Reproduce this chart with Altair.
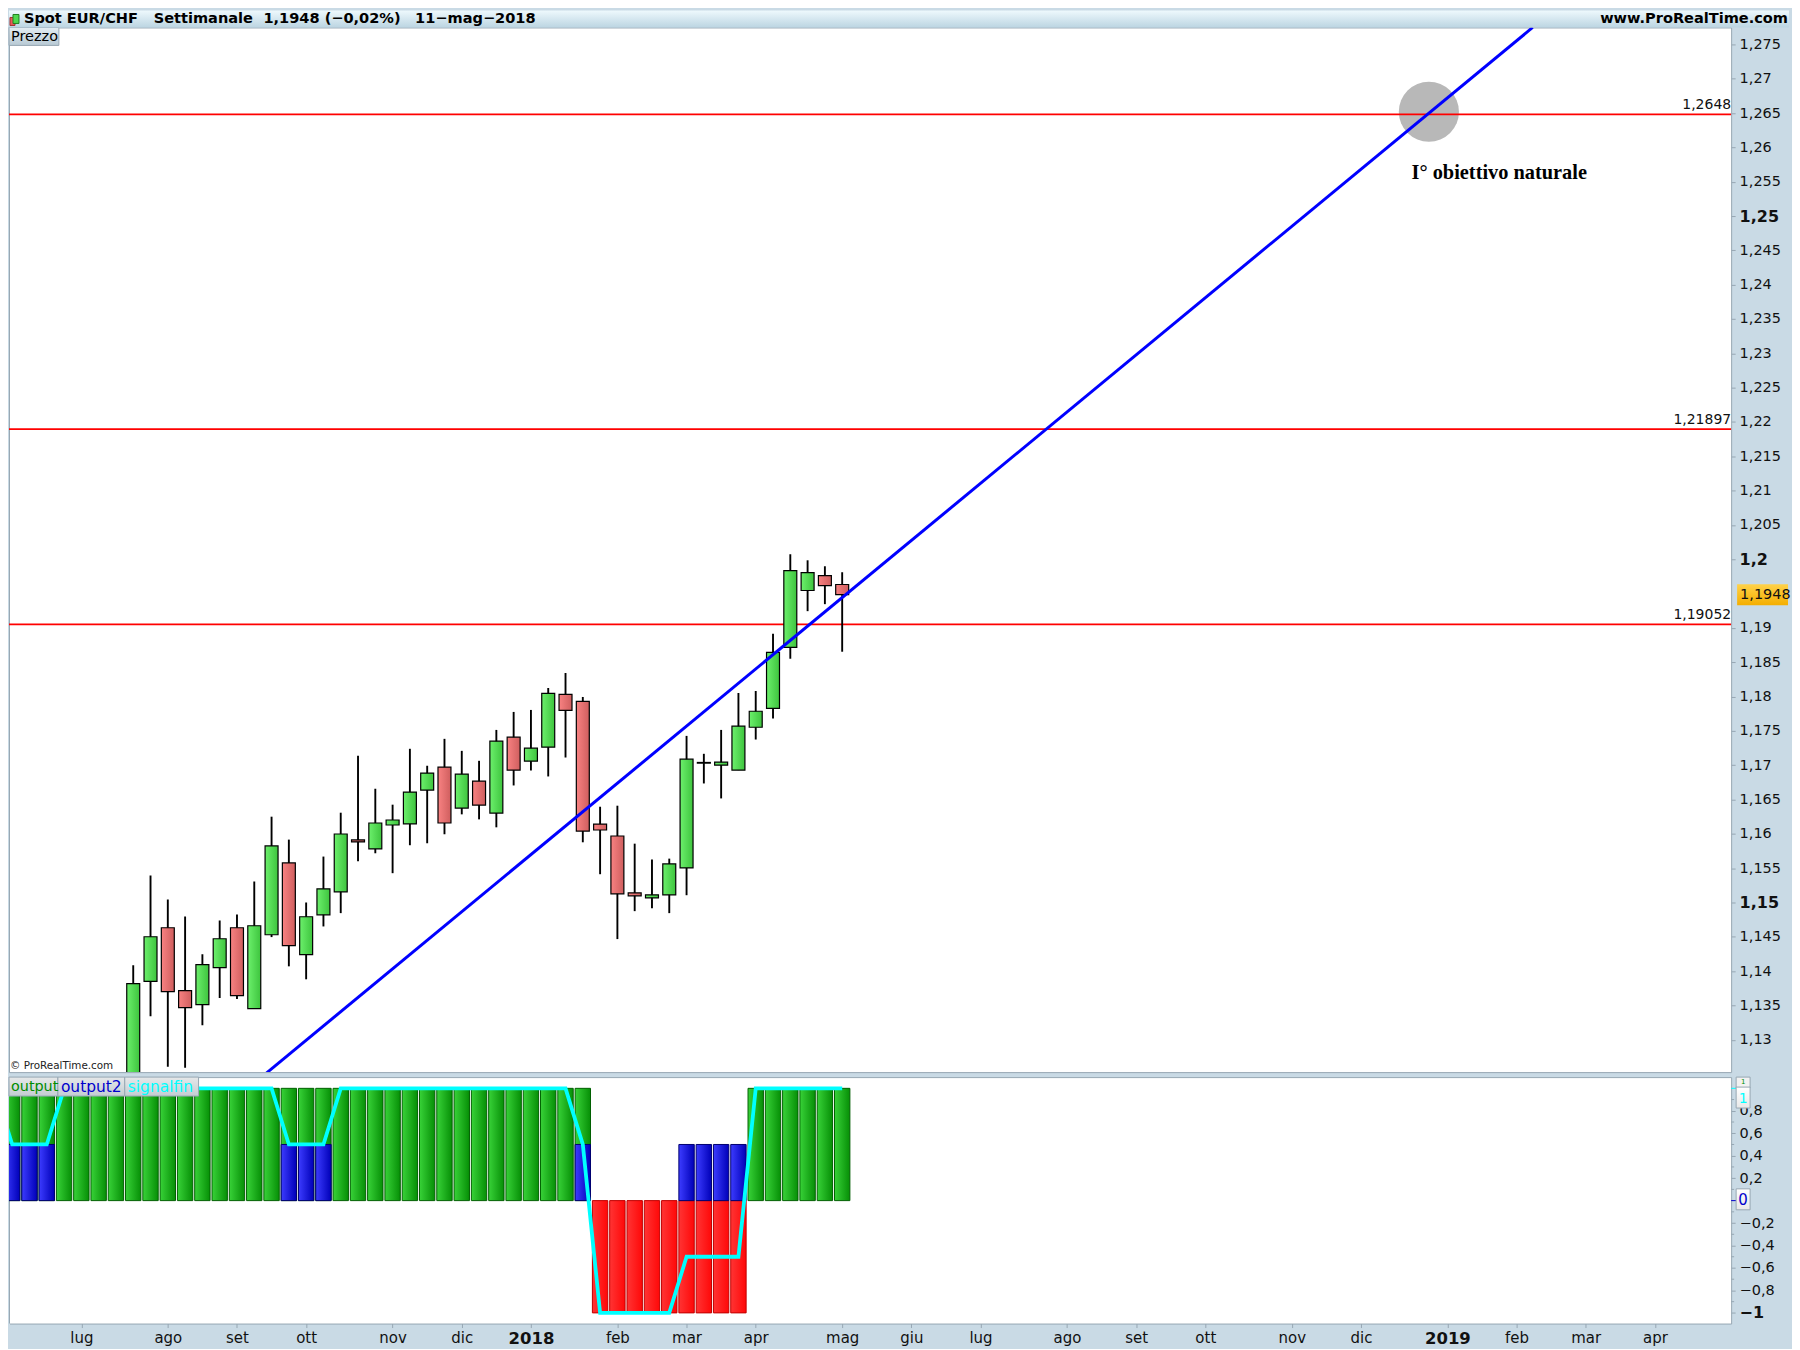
import altair as alt
import pandas as pd

# ---- price panel data (weekly candles, first visible candle is week 7) ----
first_week = 7
opens = [1.1210, 1.1385, 1.14632, 1.13717, 1.13513, 1.14051, 1.14632, 1.13455, 1.14530, 1.15577, 1.14240, 1.14821, 1.15155,
         1.15911, 1.15780, 1.16129, 1.16144, 1.16638, 1.16972, 1.16376, 1.16768, 1.16303, 1.17408, 1.17059, 1.17262, 1.18033,
         1.17931, 1.16143, 1.15969, 1.15140, 1.15068, 1.15111, 1.15504, 1.17030, 1.17001, 1.16928, 1.17553, 1.17829, 1.18716,
         1.19545, 1.19763, 1.19632]
closes = [1.13818, 1.14501, 1.13702, 1.13469, 1.14094, 1.14472, 1.13644, 1.14661, 1.15824, 1.14371, 1.14792, 1.15199, 1.15998,
          1.15882, 1.16158, 1.16202, 1.16609, 1.16885, 1.16158, 1.16870, 1.16419, 1.17350, 1.16928, 1.17248, 1.18047, 1.17800,
          1.16041, 1.16056, 1.15126, 1.15097, 1.15111, 1.15562, 1.17088, 1.17040, 1.17044, 1.17568, 1.17786, 1.18643, 1.19835,
          1.19806, 1.19617, 1.19486]
highs = [1.14085, 1.15393, 1.15044, 1.14797, 1.14245, 1.14739, 1.14826, 1.15306, 1.16250, 1.15916, 1.15000, 1.15669, 1.16308,
         1.17137, 1.16657, 1.16425, 1.17239, 1.16992, 1.17384, 1.17209, 1.17064, 1.17514, 1.17776, 1.17805, 1.18125, 1.18343,
         1.17994, 1.16395, 1.16410, 1.15857, 1.15625, 1.15639, 1.17427, 1.17166, 1.17514, 1.18052, 1.18081, 1.18916, 1.20073,
         1.19985, 1.19898, 1.19811]
lows = [1.1190, 1.13343, 1.12607, 1.12592, 1.13213, 1.13610, 1.13595, 1.13455, 1.14496, 1.14070, 1.13881, 1.14651, 1.14845,
        1.15601, 1.15717, 1.15427, 1.15834, 1.15863, 1.15994, 1.16284, 1.16211, 1.16095, 1.16705, 1.16923, 1.16836, 1.17112,
        1.15877, 1.15412, 1.14467, 1.14874, 1.14917, 1.14845, 1.15106, 1.16734, 1.16516, 1.16928, 1.17374, 1.17679, 1.18551,
        1.19244, 1.19346, 1.18653]

level_values = [1.2648, 1.21897, 1.19052]
level_labels = ["1,2648", "1,21897", "1,19052"]

trend_weeks = [14.7, 87.93]
trend_prices = [1.12515, 1.27747]

circle_week, circle_price = [81.93], [1.26519]
note_week, note_price, note_text = [86.0], [1.25625], ["I° obiettivo naturale"]

# ---- indicator panel data ----
ind_weeks = list(range(49))
output = [1]*34 + [0]*9 + [1]*6
output2 = [.5]*3 + [0]*13 + [.5]*3 + [0]*14 + [.5] + [0]*5 + [.5]*4 + [0]*6
output_neg = [0]*34 + [-1]*9 + [0]*6
signal_weeks = [-1] + ind_weeks
signalfin = [1, .5, .5, .5] + [1]*13 + [.5]*3 + [1]*14 + [.5] + [-1]*5 + [-.5]*4 + [1]*6

# ---- axes ----
month_weeks = [4, 9, 13, 17, 22, 26, 30, 35, 39, 43, 48, 52, 56, 61, 65, 69, 74, 78, 83, 87, 91, 95]
month_labels = ["lug", "ago", "set", "ott", "nov", "dic", "2018", "feb", "mar", "apr", "mag", "giu", "lug", "ago", "set",
                "ott", "nov", "dic", "2019", "feb", "mar", "apr"]
price_ticks = [1.13, 1.135, 1.14, 1.145, 1.15, 1.155, 1.16, 1.165, 1.17, 1.175, 1.18, 1.185, 1.19, 1.2, 1.205, 1.21, 1.215,
               1.22, 1.225, 1.23, 1.235, 1.24, 1.245, 1.25, 1.255, 1.26, 1.265, 1.27, 1.275]
ind_ticks = [-1, -.8, -.6, -.4, -.2, .2, .4, .6, .8]
ind_minor = [-.9, -.7, -.5, -.3, -.1, .1, .3, .5, .7, .9]

header_texts = ["Spot EUR/CHF", "Settimanale", "1,1948 (−0,02%)", "11−mag−2018"]
header_x = [15, 145, 255, 407]

W, H1, H2 = 1726, 1047, 247
RIGHT = 1784
FONT = "DejaVu Sans"
BAND = "#c9dae5"
EDGE = "#97a7b3"

def grad(*cols):
    n = len(cols) - 1
    return alt.Gradient(gradient="linear", x1=0, x2=1, y1=0, y2=0,
                        stops=[alt.GradientStop(offset=i / n, color=c) for i, c in enumerate(cols)])

def vgrad(a, b):
    return alt.Gradient(gradient="linear", x1=0, x2=0, y1=0, y2=1,
                        stops=[alt.GradientStop(offset=0, color=a), alt.GradientStop(offset=1, color=b)])

def cond(test, yes, no):
    return {"condition": {"test": test, "value": yes}, "value": no}

xs = alt.Scale(domain=[-0.1846, 99.41], nice=False, zero=False)
ys1 = alt.Scale(domain=[1.12529, 1.27747], nice=False, zero=False)
ys2 = alt.Scale(domain=[-1.095, 1.1], nice=False, zero=False)

def box(x0, x1, y0, y1, fill, stroke=None):
    kw = {"fill": fill}
    if stroke:
        kw.update(stroke=stroke, strokeWidth=1)
    return alt.Chart().mark_rect(clip=False, **kw).encode(
        x=alt.value(x0), x2=alt.value(x1), y=alt.value(y0), y2=alt.value(y1))

def label(text, x, y, size=15, color="#000000", weight="normal", align="left", font=FONT):
    return alt.Chart().mark_text(text=text, clip=False, font=font, fontSize=size, color=color, fontWeight=weight,
                                 align=align, baseline="middle").encode(x=alt.value(x), y=alt.value(y))

# ---- candles ----
df = pd.DataFrame({"i": [first_week + k for k in range(len(opens))], "o": opens, "c": closes, "h": highs, "l": lows})
df["a"] = df.i - .375
df["b"] = df.i + .375
up = df[df.c >= df.o]
dn = df[df.c < df.o]

round_prices = "abs(datum.value-1.15)<0.0001||abs(datum.value-1.2)<0.0001||abs(datum.value-1.25)<0.0001"
price_axis = alt.Axis(
    orient="right", values=price_ticks, grid=False, domain=False, title=None, tickColor=EDGE, tickSize=4,
    labelPadding=4, labelFont=FONT, labelColor="#111111", labelOverlap=False, labelBound=False,
    labelExpr="replace(format(datum.value,'.3~f'),'.',',')",
    labelFontWeight=cond(round_prices, "bold", "normal"),
    labelFontSize=cond(round_prices, 16, 14.5),
)
Y1 = lambda f: alt.Y(f, scale=ys1, axis=price_axis)
X1 = lambda f: alt.X(f, scale=xs, axis=None)

circle = alt.Chart(pd.DataFrame({"i": circle_week, "p": circle_price})).mark_point(
    filled=True, size=3632, color="#b8b8b8", opacity=1, clip=True, shape="circle").encode(x=X1("i:Q"), y=Y1("p:Q"))

levels_df = pd.DataFrame({"p": level_values, "t": level_labels})
levels = alt.Chart(levels_df).mark_rule(color="#ff0000", strokeWidth=1.8, clip=True).encode(y=Y1("p:Q"))
level_text = alt.Chart(levels_df).mark_text(align="right", baseline="bottom", font=FONT, fontSize=14, color="#111111",
                                            dy=-2, clip=False).encode(y=Y1("p:Q"), x=alt.value(W), text="t:N")

wicks = alt.Chart(df).mark_rule(color="#000000", strokeWidth=1.9, clip=True).encode(x=X1("i:Q"), y=Y1("h:Q"), y2="l:Q")
body_up = alt.Chart(up).mark_rect(fill=grad("#6cf06c", "#3ec43e"), stroke="#000000", strokeWidth=1.2, clip=True).encode(
    x=X1("a:Q"), x2="b:Q", y=Y1("o:Q"), y2="c:Q")
body_dn = alt.Chart(dn).mark_rect(fill=grad("#f88282", "#cf5e5e"), stroke="#000000", strokeWidth=1.2, clip=True).encode(
    x=X1("a:Q"), x2="b:Q", y=Y1("o:Q"), y2="c:Q")

trend = alt.Chart(pd.DataFrame({"i": trend_weeks, "p": trend_prices})).mark_line(
    color="#0000ff", strokeWidth=3, clip=True).encode(x=X1("i:Q"), y=Y1("p:Q"))

note = alt.Chart(pd.DataFrame({"i": note_week, "p": note_price, "t": note_text})).mark_text(
    font="Liberation Serif", fontSize=20.4, fontWeight="bold", color="#000000", clip=False).encode(
    x=X1("i:Q"), y=Y1("p:Q"), text="t:N")

header = [box(0, RIGHT, -17, 0, vgrad("#eef9fd", "#bcd5e2"))]
header += [box(1, 6, -10, -2, "#e85a5a", "#a03030"), box(4, 10, -13, -4, "#4fd84f", "#208020")]
header += [label(t, x, -8.5, size=14.6, weight="bold") for t, x in zip(header_texts, header_x)]
header += [label("www.ProRealTime.com", RIGHT - 1, -8.5, size=14.6, weight="bold", align="right")]

prezzo = [box(0, 50, 0, 18, vgrad("#e4edf2", "#b7c9d4"), EDGE), label("Prezzo", 2, 10, size=14.5)]
copyright_ = [label("© ProRealTime.com", 1, 1041, size=10.4, color="#222222")]

tag = [box(W + 6, RIGHT - 1, 558, 579, vgrad("#ffd24a", "#f4ae00")),
       label("1,1948", W + 9, 569, size=14.5, color="#111111")]

top = alt.layer(circle, levels, wicks, body_up, body_dn, trend, note, level_text,
                *prezzo, *copyright_, *tag, *header).properties(width=W, height=H1)

# ---- indicator ----
ind = pd.DataFrame({"i": ind_weeks, "g": output, "u": output2, "r": output_neg})
ind["a"] = ind.i - .445
ind["b"] = ind.i + .445
ind["z"] = 0

year_weeks = "datum.value==30||datum.value==83"
x_axis = alt.Axis(
    values=month_weeks, grid=False, domain=False, title=None, tickColor=EDGE, tickSize=4, labelPadding=3,
    labelFont=FONT, labelColor="#111111", labelOverlap=False, labelBound=False, labelFlush=False,
    labelExpr="[" + ",".join(f"'{m}'" for m in month_labels) + "][indexof([" + ",".join(map(str, month_weeks)) + "],datum.value)]",
    labelFontWeight=cond(year_weeks, "bold", "normal"),
    labelFontSize=cond(year_weeks, 16.5, 15),
)
ind_axis = alt.Axis(
    orient="right", values=ind_ticks, grid=False, domain=False, title=None, tickColor=EDGE, tickSize=4, labelPadding=4,
    labelFont=FONT, labelColor="#111111", labelOverlap=False, labelBound=False,
    labelExpr="replace(replace(format(datum.value,'.1~f'),'.',','),'-','−')",
    labelFontWeight=cond("datum.value==-1", "bold", "normal"),
    labelFontSize=cond("datum.value==-1", 16, 14.5),
)
X2 = lambda f: alt.X(f, scale=xs, axis=x_axis)
Y2 = lambda f: alt.Y(f, scale=ys2, axis=ind_axis)

def bars(frame, field, fill, stroke):
    return alt.Chart(frame).mark_rect(fill=fill, stroke=stroke, strokeWidth=1, clip=True).encode(
        x=X2("a:Q"), x2="b:Q", y=Y2("z:Q"), y2=f"{field}:Q")

bar_g = bars(ind[ind.g != 0], "g", grad("#38d238", "#068f06"), "#005f00")
bar_r = bars(ind[ind.r != 0], "r", grad("#ff3434", "#ff0808"), "#c00000")
bar_u = bars(ind[ind.u != 0], "u", grad("#3c3cff", "#0000b8"), "#000070")

sig = alt.Chart(pd.DataFrame({"i": signal_weeks, "v": signalfin})).mark_line(
    color="#00ffff", strokeWidth=3.8, clip=True).encode(x=X2("i:Q"), y=Y2("v:Q"))

minor = alt.Chart(pd.DataFrame({"v": ind_minor})).mark_rule(color=EDGE, strokeWidth=1, clip=False).encode(
    y=Y2("v:Q"), x=alt.value(W), x2=alt.value(W + 3))

def tick(y_val, color):
    return alt.Chart(pd.DataFrame({"v": [y_val]})).mark_rule(color=color, strokeWidth=1, clip=False).encode(
        y=Y2("v:Q"), x=alt.value(W), x2=alt.value(W + 5))

legend_grad = vgrad("#e6e8e9", "#c3ccd2")
legend = [box(0, 49, 0, 19, legend_grad, EDGE), box(49, 116, 0, 19, legend_grad, EDGE), box(116, 190, 0, 19, legend_grad, EDGE),
          label("output", 2, 10, size=14.4, color="#008c00"),
          label("output2", 52, 10, size=15.5, color="#0000cc"),
          label("signalfin", 119, 10, size=15.5, color="#00ffff")]

tags = [tick(1, "#00ffff"), tick(0, "#0000cc"),
        box(W + 5, W + 19, 0, 11, "#f2f2f2", EDGE), label("1", W + 12, 5, size=7, color="#009000", align="center"),
        box(W + 5, W + 19, 10, 31, vgrad("#ffffff", "#e8e8e8"), EDGE), label("1", W + 12, 21.5, size=14, color="#00ffff", align="center"),
        box(W + 5, W + 19, 112, 133, vgrad("#ffffff", "#e8e8e8"), EDGE), label("0", W + 12, 123, size=15, color="#0000cc", align="center")]

band_bottom = box(0, 1, H2, H2 + 18, BAND)

bottom = alt.layer(band_bottom, bar_g, bar_r, bar_u, sig, minor, *legend, *tags).properties(width=W, height=H2)

chart = alt.vconcat(top, bottom, spacing=3, background=BAND, padding=0).configure_view(
    fill="#ffffff", stroke=EDGE, strokeWidth=1).resolve_scale(x="independent", y="independent")

chart.save("out.html", embed_options={"renderer": "svg", "actions": False})
